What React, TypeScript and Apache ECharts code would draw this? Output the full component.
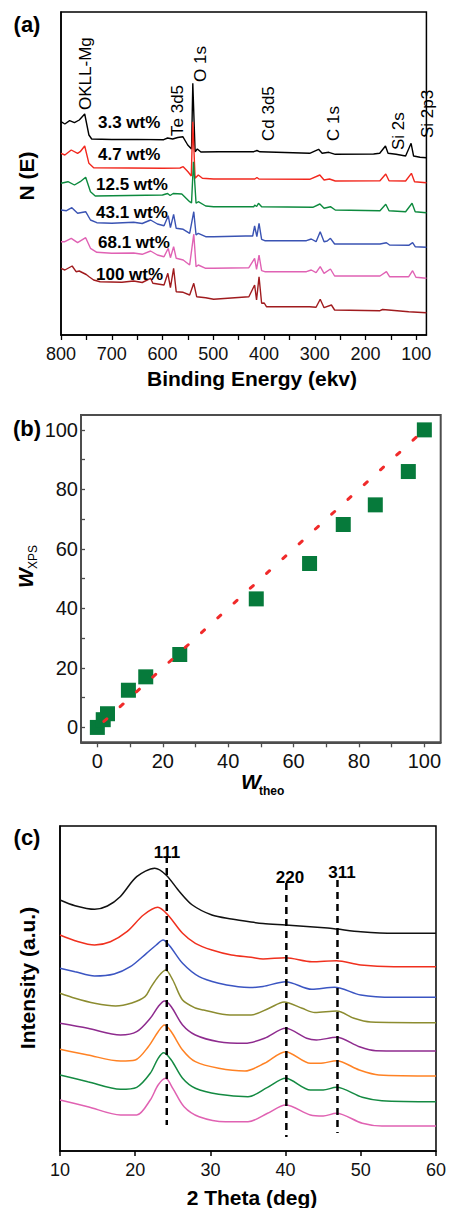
import React, { useEffect, useRef } from "react";
import * as echarts from "echarts";

const FONT = "'Liberation Sans', Arial, Helvetica, sans-serif";

// ---------------- (a) XPS survey spectra: [binding energy, stacked intensity]
const xpsNames = ["3.3 wt%", "4.7 wt%", "12.5 wt%", "43.1 wt%", "68.1 wt%", "100 wt%"];
const xpsColors = ["#000000", "#f2281e", "#0d8a3e", "#3a53b3", "#e062b4", "#a01b1e"];
const xpsTicks = [100, 200, 300, 400, 500, 600, 700, 800];
const xpsMinorTicks = [100, 150, 200, 250, 300, 350, 400, 450, 500, 550, 600, 650, 700, 750, 800];
const peakNames = ["OKLL-Mg", "Te 3d5", "O 1s", "Cd 3d5", "C 1s", "Si 2s", "Si 2p3"];

const xps3_3 = [[800,213.3],[792.4,211],[783,214.3],[773.5,212.3],[764,215],[753.3,221],[745,200],[739.5,196],[700,195.5],[650,195.6],[597.6,195.3],[590,197],[580,196],[570,197.5],[560,198.3],[550.3,190],[542.8,186],[540.3,251.7],[535.8,183.3],[531.4,186],[524.4,183],[489.8,183.3],[420,183.3],[414,184.5],[408,183.2],[310,181.7],[292.5,185.7],[285.5,181.7],[272.3,182.7],[259.6,180.7],[184,181],[172,181.7],[160.7,189],[155.6,181.7],[139.9,180.7],[121,179],[110.2,191.7],[105.3,179],[92.6,177.7],[80,177.3]];
const xps4_7 = [[800,181.7],[792.4,180],[779.8,185],[767.3,181.7],[762.2,183.3],[753.3,189],[745,171.7],[735.7,167.3],[600,166.7],[565.5,167],[559.2,168.3],[549.8,163.3],[543.3,159],[540.3,213.3],[535.8,156.7],[529.5,160],[521.4,156.7],[499.3,156],[418,156],[414,157.5],[410,156],[310,155.7],[290,160],[281.7,155],[271,156],[259.6,154],[171.5,154.3],[160.1,161],[153.7,154.3],[121,154],[109.6,161.7],[103.4,153.3],[80,152.3]];
const xps12_5 = [[800,151.7],[786.2,153.3],[773.5,150],[762.2,153.3],[751.4,157.7],[741.9,143.3],[732.5,139],[600,140],[590,141.5],[585,139.5],[579,141.5],[562,141],[546.5,133.3],[542.8,132],[539,173.3],[533.9,131.7],[529.5,133.3],[514.9,129],[499.3,128.3],[420,128.3],[418.5,130],[414.5,128.5],[410.9,131.7],[404.7,128.3],[303.9,127.7],[289.9,131],[281.7,126.7],[269.1,128.3],[259.6,125],[171.5,124.3],[160.1,130.7],[153.7,124.3],[121,123.3],[108.3,131.7],[102.1,123.3],[80,122.3]];
const xps43_1 = [[800,125],[789.2,124.3],[778.6,127.3],[767.3,121.7],[751.4,123.3],[741.9,115],[729.4,112.3],[700,111.7],[656.8,112.7],[640,111.5],[623.5,115],[610,111],[597,109.3],[588.7,119.3],[584.4,107.3],[578.1,120.7],[573,106.7],[559.2,105.7],[546.5,101.7],[538.4,123.3],[533.9,100],[529.5,101.7],[514.9,98.3],[499.3,98.3],[436.3,99],[422.3,99],[418.5,109],[414.1,98.3],[409.8,111.7],[404.7,95.7],[398.5,94.3],[316.4,94.3],[306.9,96],[297.4,93.3],[289.3,103.3],[281.7,93.3],[275.5,94],[269.1,96.7],[260.9,91],[171.5,91],[158.8,92.3],[152.6,90],[114.8,89.7],[107.2,92.3],[102.1,88.3],[80,87.7]];
const xps68_1 = [[800,93.3],[792.4,93.3],[779.8,96.7],[767.3,92.3],[751.4,97.3],[741.9,86.7],[729.4,82.7],[700,81.7],[656.8,82],[640,80.7],[623.5,84],[610,80],[597,78.3],[588.7,86.7],[584.4,77.3],[578.1,88.3],[573,76.7],[559.2,75],[546.5,70],[538.4,101],[533.9,68.3],[529.5,70],[514.9,66.7],[499.3,66.7],[429.8,67.3],[418.5,76.7],[414.7,65.7],[409.8,80],[404.7,64.3],[398.5,63.3],[316.4,63.3],[306.9,65],[297.4,62.3],[289.3,68.3],[281.7,61.7],[269.1,66],[260.9,59],[171.5,59],[158.8,63.3],[152.6,58.3],[114.8,58.3],[107.2,64.3],[100.7,57.7],[80,56.7]];
const xps100 = [[800,66.7],[792.4,65],[778,69],[770.3,63.3],[764.1,64],[750.3,60.5],[744,58],[735.7,55],[723,53.3],[680,52.7],[656.8,54],[640,52.5],[623.5,56.7],[619,51.7],[597,50],[589.5,61.7],[584.4,47.3],[578.1,66.7],[573,43.3],[559.2,42.7],[546.5,40],[538.4,51.7],[532.7,38.3],[514.9,37.3],[499.3,35.7],[429.8,38.3],[418.5,50],[414.7,35],[409.8,58.3],[404.7,31.7],[399.6,32],[395.2,28.3],[310.1,28.3],[297.4,27.7],[289.3,35.7],[281.7,27.3],[267.2,30],[260.9,25],[171.5,24.3],[166.4,25.5],[114.8,23.3],[80,22.3]];
const xpsSeries = [xps3_3, xps4_7, xps12_5, xps43_1, xps68_1, xps100];

// ---------------- (b) W_XPS versus W_theo
const wTheo = [0, 1.8, 3.1, 9.5, 14.8, 25.2, 48.6, 64.9, 75.2, 85.0, 95.1, 100];
const wXps = [0, 2.6, 4.6, 12.5, 17.0, 24.5, 43.2, 55.1, 68.2, 74.8, 86.0, 100];
const idealX = [2, 100];
const idealY = [2, 100];
const bTicks = [0, 20, 40, 60, 80, 100];
const bMinorTicks = [0, 10, 20, 30, 40, 50, 60, 70, 80, 90, 100];

// ---------------- (c) XRD patterns: [2 theta, stacked intensity]
const xrdColors = ["#111111", "#f0301e", "#3b55c2", "#8c8c30", "#8e2b8e", "#ff8224", "#148a42", "#e062b2"];
const xrd1 = [[10,251],[12,245.3],[14.6,241.7],[16.3,245],[18,254.3],[20.2,274.3],[22.6,282.7],[24.1,276],[25.9,259.3],[27.6,246],[30.2,236],[32.8,232],[35.4,229],[37,227.5],[40,226],[45.6,223],[46.8,222],[50,219.3],[54.4,217.7],[60,217.7]];
const xrd2 = [[10,216],[12,210.3],[14.6,206],[16.7,209.3],[18.9,219.3],[21.1,236],[23,243.7],[24.35,236],[26.3,217.7],[28,207.7],[30.2,201],[32.8,196],[35.4,193.7],[37,192],[40,193.3],[43.5,189.3],[46.75,190.3],[50,186],[54.4,184.3],[60,184.3]];
const xrd3 = [[10,182.7],[12,179.3],[14.6,175],[17.2,177],[19.35,184.3],[21.5,197.7],[22.8,206],[23.7,211],[24.6,205],[26.3,187.7],[28.5,174.3],[31.1,167.7],[33.7,164.3],[35.2,163.5],[37,164.5],[40,169.3],[43.5,161.7],[46.5,163.7],[50,156],[54.4,153.7],[60,153.7]];
const xrd4 = [[10,157.7],[12,152.7],[14.6,147.7],[17.4,145],[19.55,148],[21.3,154.3],[22,162.7],[23.05,174.3],[24.05,181],[25,171],[26.3,151],[28,143],[29.1,141],[32.6,136],[35.4,136],[37.8,142.7],[39.8,149],[42.2,142.7],[43.9,138.5],[46.8,140],[49.1,132.7],[51.3,129],[60,128.3]];
const xrd5 = [[10,127.7],[13.7,122.7],[18.05,116],[20.2,119.3],[22,132.7],[23.05,144.3],[23.9,150],[24.8,144.3],[26.3,126],[28,116],[31.1,109.3],[34.6,107.7],[37.2,112.7],[40,122.7],[42.8,112.7],[44.1,111],[46.75,113.7],[49.8,104.3],[52,100.3],[60,100]];
const xrd6 = [[10,101.7],[13.7,96],[18.05,90],[20,91],[21.74,104.3],[23.05,119.3],[23.9,126],[24.8,119.3],[26.3,101],[28,89.3],[31.1,82.7],[34.6,80],[37.2,87.7],[40,99.3],[43.3,87.7],[45,88],[46.75,90.3],[49.8,81],[52.4,76],[60,75]];
const xrd7 = [[10,76],[13.7,69.3],[18.05,61.7],[20.2,63.7],[22,77.7],[23.05,92.7],[23.8,98.3],[24.8,91],[26.3,72.7],[28,62.7],[31.1,56.7],[35,54.3],[37.6,63.7],[40,72.7],[43.3,61],[45,61],[46.75,63.7],[50.2,53.7],[52.8,50.3],[60,49.3]];
const xrd8 = [[10,51],[13.7,44.3],[18.05,36],[20.2,36],[22,51],[23.05,66],[24.05,72.7],[25,62.7],[26.5,44.3],[28.5,34.3],[32,29.3],[35,29.3],[37.6,37.7],[40,46],[43.3,36],[45,35],[46.75,37.7],[50.2,27.7],[52.8,25],[60,25]];
const xrdSeries = [xrd1, xrd2, xrd3, xrd4, xrd5, xrd6, xrd7, xrd8];
const hklNames = ["111", "220", "311"];
const hklPos = [24.2, 40.1, 46.9];
const hklTop = [295, 268, 271];
const hklBottom = [26, 14, 18];

function txt(text: string, x: number, y: number, font: string, align = "center", vAlign = "middle", rotation = 0) {
  return {
    type: "text",
    x,
    y,
    rotation,
    z: 100,
    silent: true,
    style: { text, font, fill: "#000", align, verticalAlign: vAlign, textAlign: align, textVerticalAlign: vAlign },
  };
}

function buildOption() {
  const bold17 = `bold 17px ${FONT}`;
  const reg17 = `17px ${FONT}`;
  const title = `bold 21px ${FONT}`;
  const panel = `bold 22px ${FONT}`;

  const wtPos = [[98, 122], [98, 154], [96, 184], [96, 212], [98, 242], [96, 274]];
  const peakPos = [[85, 110], [177, 136], [200, 82], [268, 141], [333, 141], [398, 150], [427, 138]];
  const hklLabelPos = [[167, 852], [290, 877], [342, 872]];

  const graphic: any[] = [
    txt("(a)", 27, 24, panel),
    txt("(b)", 27, 428, panel),
    txt("(c)", 27, 837, panel),
    txt("N (E)", 26, 176, title, "center", "middle", Math.PI / 2),
    txt("Binding Energy (ekv)", 252, 378, title),
    txt("Intensity (a.u.)", 27, 978, title, "center", "middle", Math.PI / 2),
    txt("2 Theta (deg)", 252, 1197, title),
    txt("W", 251, 781, `italic bold 21px ${FONT}`),
    txt("theo", 259, 791, `bold 12px ${FONT}`, "left"),
    {
      type: "group",
      x: 25,
      y: 588,
      rotation: Math.PI / 2,
      children: [
        txt("W", 0, 0, `italic bold 21px ${FONT}`, "left"),
        txt("XPS", 19, 8, `12px ${FONT}`, "left"),
      ],
    },
  ];
  xpsNames.forEach((n, i) => graphic.push(txt(n, wtPos[i][0], wtPos[i][1], bold17, "left")));
  peakNames.forEach((n, i) => graphic.push(txt(n, peakPos[i][0], peakPos[i][1], reg17, "left", "middle", Math.PI / 2)));
  hklNames.forEach((n, i) => graphic.push(txt(n, hklLabelPos[i][0], hklLabelPos[i][1], bold17)));

  const axisLineBlack = { show: true, onZero: false, lineStyle: { color: "#000", width: 1.5 } };
  const axisLineGray = { show: true, onZero: false, lineStyle: { color: "#4d4d4d", width: 2 } };
  const labelStyle = (size: number, margin: number) => ({ fontSize: size, fontFamily: FONT, color: "#111", margin });

  const series: any[] = [];
  xpsSeries.forEach((d, i) =>
    series.push({
      type: "line",
      name: xpsNames[i],
      xAxisIndex: 0,
      yAxisIndex: 0,
      data: d,
      showSymbol: false,
      silent: true,
      lineStyle: { color: xpsColors[i], width: 1.4 },
      z: 2 + i,
    })
  );
  series.push({
    type: "scatter",
    xAxisIndex: 1,
    yAxisIndex: 1,
    data: wTheo.map((x, i) => [x, wXps[i]]),
    symbol: "rect",
    symbolSize: 15,
    itemStyle: { color: "#067a3b", opacity: 1 },
    silent: true,
    z: 3,
  });
  series.push({
    type: "line",
    xAxisIndex: 1,
    yAxisIndex: 1,
    data: idealX.map((x, i) => [x, idealY[i]]),
    showSymbol: false,
    silent: true,
    lineStyle: { color: "#f02a2a", width: 3, type: [4, 18], cap: "round" },
    z: 5,
  });
  xrdSeries.forEach((d, i) =>
    series.push({
      type: "line",
      xAxisIndex: 2,
      yAxisIndex: 2,
      data: d,
      smooth: 0.3,
      showSymbol: false,
      silent: true,
      lineStyle: { color: xrdColors[i], width: 1.5 },
      z: 2 + i,
    })
  );
  hklPos.forEach((x, i) =>
    series.push({
      type: "line",
      xAxisIndex: 2,
      yAxisIndex: 2,
      data: [[x, hklTop[i]], [x, hklBottom[i]]],
      showSymbol: false,
      silent: true,
      lineStyle: { color: "#000", width: 2.5, type: [7, 5] },
      z: 20,
    })
  );

  return {
    animation: false,
    backgroundColor: "#fff",
    textStyle: { fontFamily: FONT },
    grid: [
      { left: 61, top: 12, width: 381, height: 323, show: true, borderColor: "#000", borderWidth: 1.5, backgroundColor: "transparent" },
      { left: 81, top: 415, width: 359.7, height: 327.3, show: true, borderColor: "#4d4d4d", borderWidth: 2, backgroundColor: "transparent" },
      { left: 60, top: 826, width: 383.3, height: 325, show: true, borderColor: "#000", borderWidth: 1.5, backgroundColor: "transparent" },
    ],
    xAxis: [
      {
        gridIndex: 0, type: "value", min: 80, max: 800, inverse: true,
        axisLine: axisLineBlack,
        axisTick: { show: true, inside: false, length: 5, customValues: xpsMinorTicks, lineStyle: { color: "#000", width: 1.3 } },
        axisLabel: { ...labelStyle(18, 10), customValues: xpsTicks },
        splitLine: { show: false },
      },
      {
        gridIndex: 1, type: "value", min: -5, max: 105,
        axisLine: axisLineGray,
        axisTick: { show: true, inside: false, length: 5, customValues: bMinorTicks, lineStyle: { color: "#4d4d4d", width: 1.3 } },
        axisLabel: { ...labelStyle(20, 9), customValues: bTicks },
        splitLine: { show: false },
      },
      {
        gridIndex: 2, type: "value", min: 10, max: 60, interval: 10,
        axisLine: axisLineBlack,
        axisTick: { show: true, inside: false, length: 5, lineStyle: { color: "#000", width: 1.5 } },
        axisLabel: labelStyle(18, 10),
        splitLine: { show: false },
      },
    ],
    yAxis: [
      {
        gridIndex: 0, type: "value", min: 0, max: 323,
        axisLine: axisLineBlack, axisTick: { show: false }, axisLabel: { show: false }, splitLine: { show: false },
      },
      {
        gridIndex: 1, type: "value", min: -5, max: 105,
        axisLine: axisLineGray,
        axisTick: { show: true, inside: true, length: 4, customValues: bMinorTicks, lineStyle: { color: "#4d4d4d", width: 1.3 } },
        axisLabel: { ...labelStyle(20, 3), customValues: bTicks },
        splitLine: { show: false },
      },
      {
        gridIndex: 2, type: "value", min: 0, max: 325,
        axisLine: axisLineBlack, axisTick: { show: false }, axisLabel: { show: false }, splitLine: { show: false },
      },
    ],
    graphic,
    series,
  };
}

export default function App() {
  const ref = useRef<HTMLDivElement>(null);
  useEffect(() => {
    if (!ref.current) return;
    const chart = echarts.init(ref.current, null, { renderer: "svg" });
    chart.setOption(buildOption() as any);
    return () => chart.dispose();
  }, []);
  return <div ref={ref} style={{ position: "absolute", left: 0, top: 0, width: 449, height: 1208 }} />;
}
